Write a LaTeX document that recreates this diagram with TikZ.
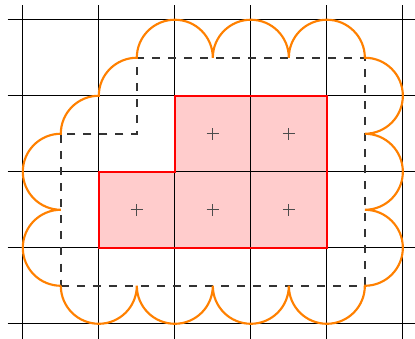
\documentclass[tikz,border=0pt]{standalone}
\usepackage{tikz}

\begin{document}
\begin{tikzpicture}[cell/.style={thick, draw=red}, hull/.style={thick, draw=orange}, inner/.style={dashed, semithick, draw=black!80}]
			\useasboundingbox (-0.3,-0.2) rectangle (5.16,4.26);
			\clip (-0.3,-0.2) rectangle (5.16,4.26);
			\fill[red!20] (1,1) -- (4,1) -- (4,3) -- (2,3) -- (2,2) -- (1,2) -- cycle;
			\draw (-0.2,-0.2) grid (5.2,4.2);
			\draw[cell] (1,1) -- (4,1) -- (4,3) -- (2,3) -- (2,2) -- (1,2) -- cycle;
			\draw[inner] (0.5,0.5) -- (4.5,0.5) -- (4.5,3.5) -- (1.5,3.5) -- (1.5,2.5) -- (0.5,2.5) -- cycle;
			\foreach \x/\y in {1.5/1.5, 2.5/1.5, 3.5/1.5, 2.5/2.5, 3.5/2.5}
				\draw[black!70] (\x-0.08,\y) -- (\x+0.08,\y) (\x,\y-0.08) -- (\x,\y+0.08);
			\draw[hull] (0.5,0.5)
				arc (180:360:0.5) arc (180:360:0.5) arc (180:360:0.5) arc (180:360:0.5)
				arc (-90:90:0.5) arc (-90:90:0.5) arc (-90:90:0.5)
				arc (0:180:0.5) arc (0:180:0.5) arc (0:180:0.5)
				arc (90:180:0.5) arc (90:180:0.5)
				arc (90:270:0.5) arc (90:270:0.5);
\end{tikzpicture}
\end{document}
